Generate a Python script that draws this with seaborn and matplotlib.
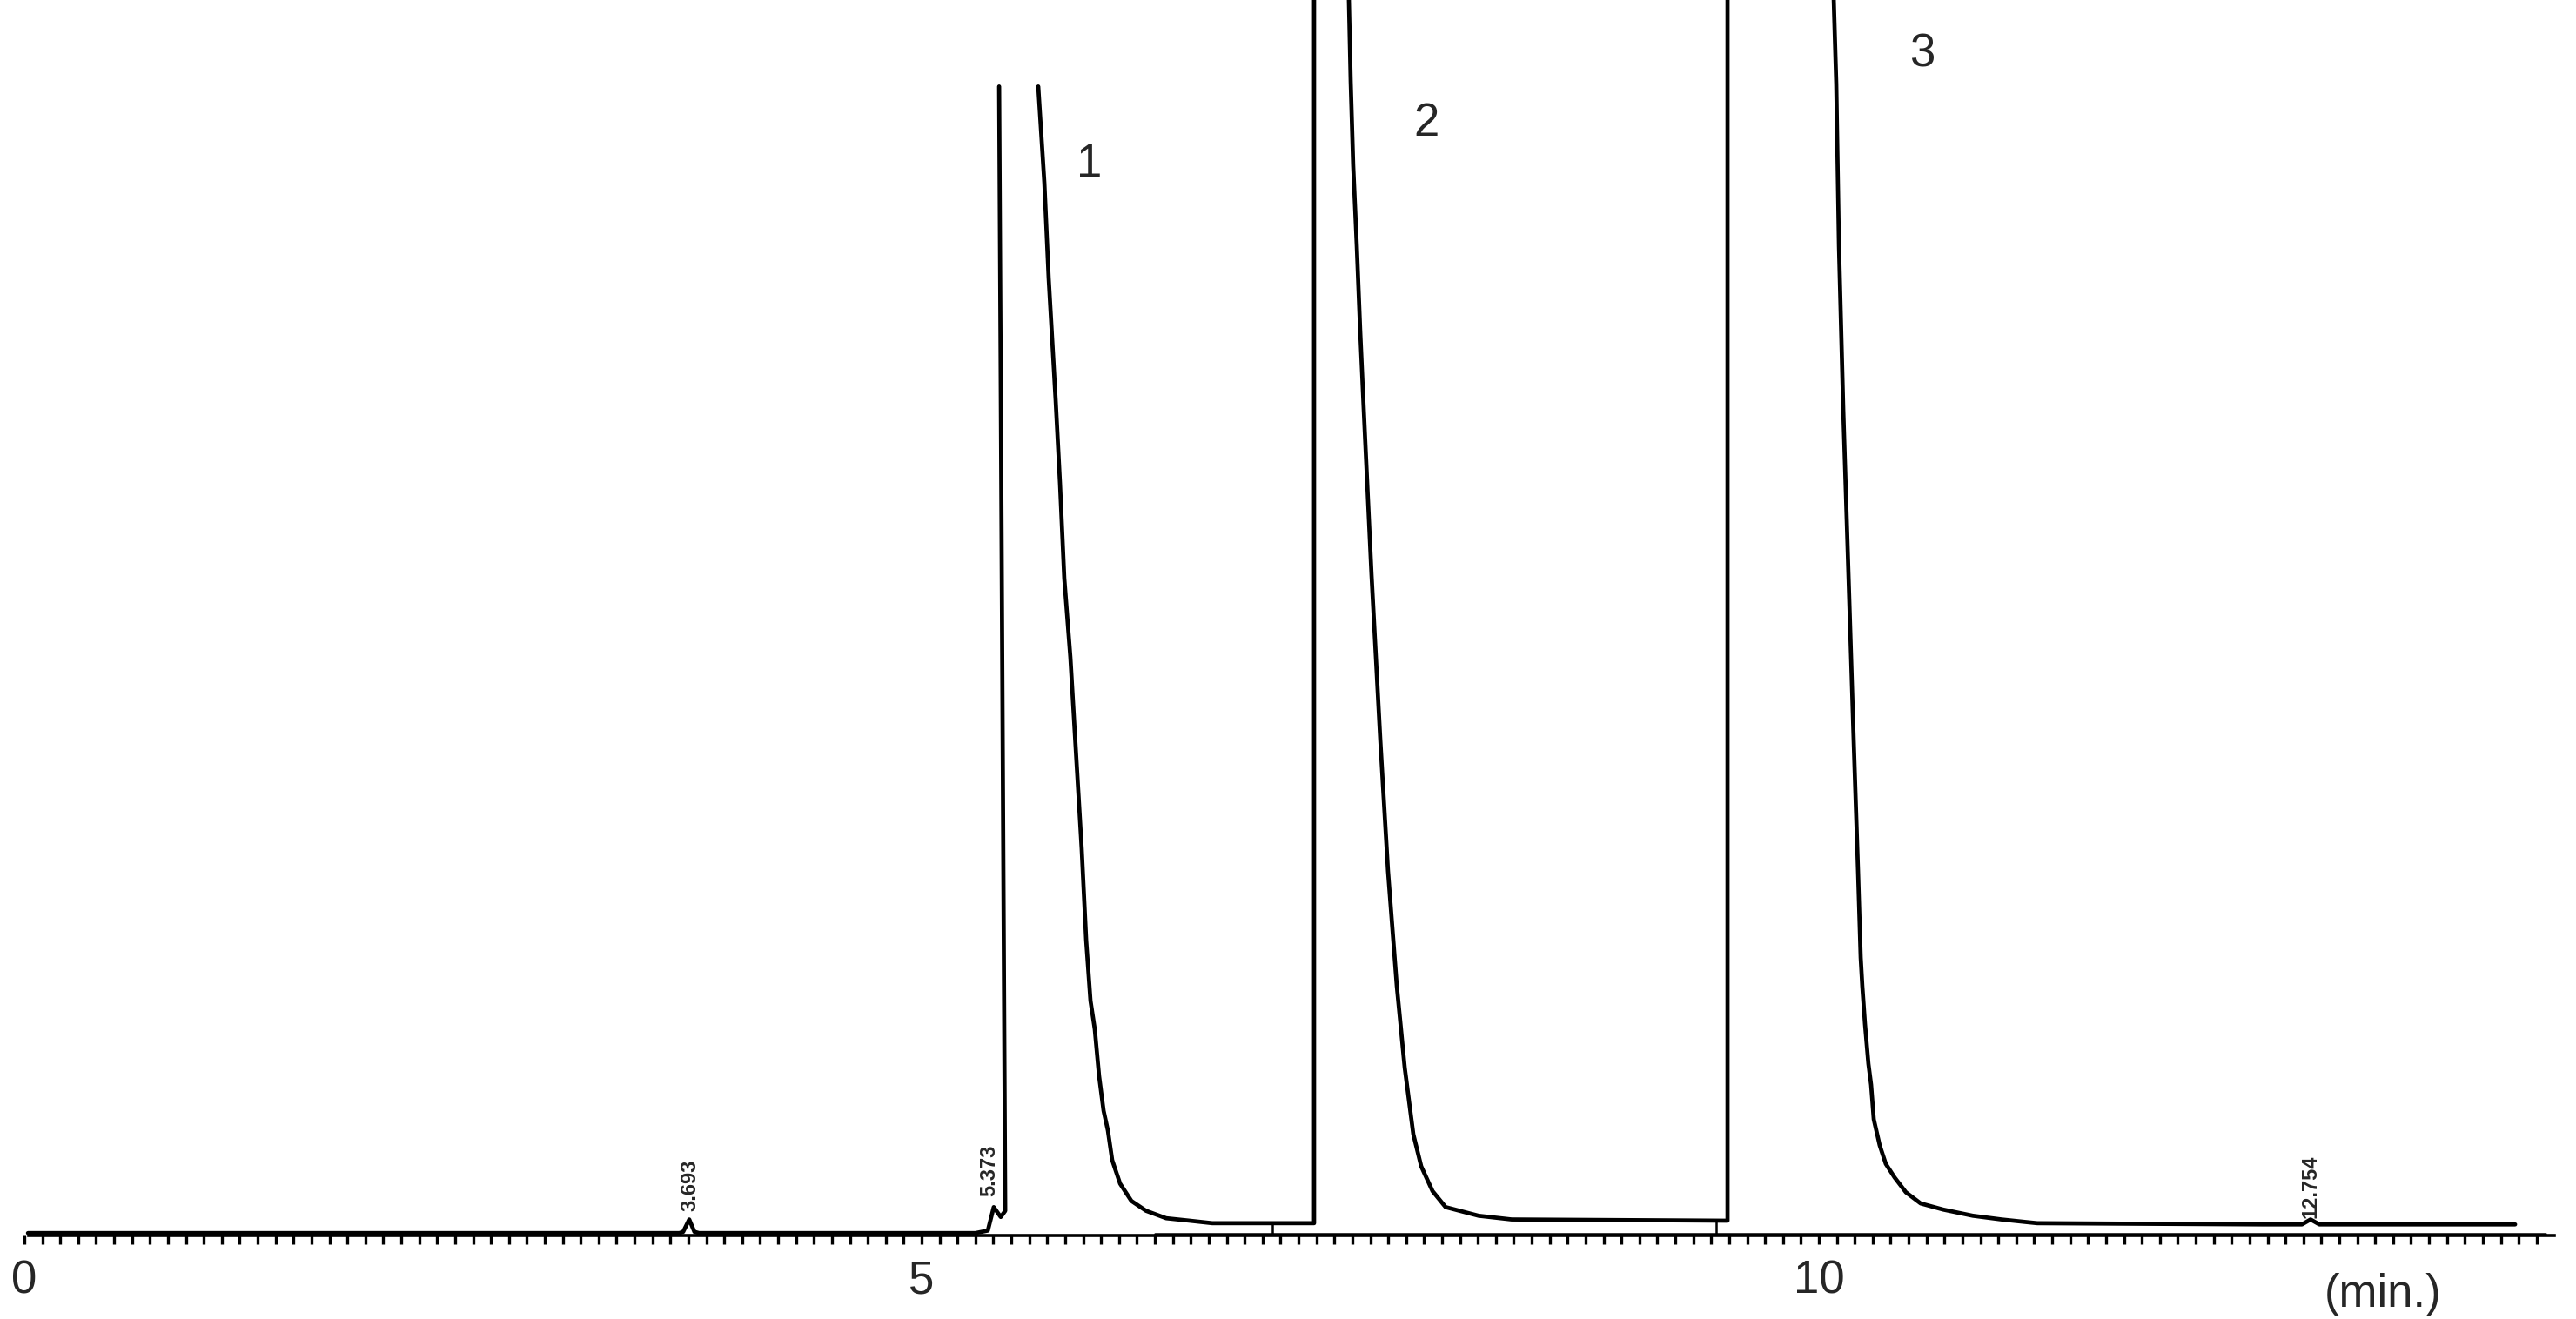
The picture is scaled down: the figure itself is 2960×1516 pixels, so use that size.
import matplotlib.pyplot as plt
import seaborn as sns
import pandas as pd
import numpy as np

# retention time (min) / detector signal (% of full scale)
t_a = [0.02, 1.50, 3.00, 3.65, 3.671, 3.705, 3.734, 3.76, 5.30, 5.369, 5.402, 5.441, 5.466, 5.432]
s_a = [0.2, 0.2, 0.2, 0.2, 0.3, 1.3, 0.3, 0.2, 0.2, 0.4, 2.3, 1.5, 2.0, 93.0]

t_b = [5.650, 5.684, 5.708, 5.747, 5.771, 5.795, 5.829, 5.863, 5.892, 5.917, 5.941, 5.965,
       5.989, 6.014, 6.038, 6.062, 6.106, 6.169, 6.251, 6.363, 6.494, 6.620, 7.187, 7.187]
s_b = [93.0, 85.2, 77.5, 67.6, 60.9, 53.2, 46.8, 38.4, 31.3, 23.9, 19.0, 16.7,
       12.9, 10.1, 8.5, 6.1, 4.2, 2.8, 2.0, 1.4, 1.2, 1.0, 1.0, 100]

t_c = [7.381, 7.391, 7.405, 7.425, 7.444, 7.464, 7.507, 7.556, 7.599, 7.648, 7.692, 7.740,
       7.784, 7.847, 7.920, 8.104, 8.288, 9.491, 9.491]
s_c = [100, 93.4, 86.6, 80.1, 73.2, 66.8, 53.5, 40.1, 29.5, 20.2, 13.6, 8.2,
       5.6, 3.6, 2.3, 1.6, 1.3, 1.2, 100]

t_d = [10.083, 10.097, 10.112, 10.136, 10.165, 10.194, 10.218, 10.233, 10.242, 10.257, 10.276,
       10.291, 10.306, 10.339, 10.373, 10.422, 10.485, 10.567, 10.693, 10.858, 11.018, 11.149,
       11.217, 12.473, 12.692, 12.740, 12.789, 13.880]
s_d = [100, 93.2, 80.1, 66.8, 53.5, 40.1, 29.6, 22.5, 20.2, 17.1, 13.9,
       12.2, 9.4, 7.3, 5.8, 4.7, 3.5, 2.6, 2.1, 1.6, 1.3, 1.1,
       1.0, 0.9, 0.9, 1.3, 0.9, 0.9]

# integration baseline and its drop lines
base_t = [6.30, 14.05]
base_s = [0.15, 0.15]
drop_t = [6.954, 9.428]
drop_top = [1.0, 1.2]

peak_names = ["1", "2", "3"]
peak_t = [5.936, 7.813, 10.577]
peak_s = [86.7, 90.0, 95.6]

rt_labels = ["3.693", "5.373", "12.754"]
rt_t = [3.71, 5.378, 12.74]
rt_s = [2.0, 3.2, 1.4]

df = pd.concat([
    pd.DataFrame({"t": t_a, "s": s_a, "seg": 0}),
    pd.DataFrame({"t": t_b, "s": s_b, "seg": 1}),
    pd.DataFrame({"t": t_c, "s": s_c, "seg": 2}),
    pd.DataFrame({"t": t_d, "s": s_d, "seg": 3}),
], ignore_index=True)

sns.set_style("white")
plt.rcParams["font.family"] = ["Liberation Sans Narrow", "Liberation Sans", "DejaVu Sans"]

fig = plt.figure(figsize=(29.6, 15.16), dpi=100)
ax = fig.add_axes([0, 0.0633, 1, 0.9367])

sns.lineplot(data=df, x="t", y="s", units="seg", estimator=None, sort=False,
             color="black", linewidth=3.4, ax=ax)
sns.lineplot(x=base_t, y=base_s, color="black", linewidth=1.8, ax=ax)
ax.vlines(drop_t, 0.15, drop_top, color="black", linewidth=1.8)

for name, x, y in zip(peak_names, peak_t, peak_s):
    ax.text(x, y, name, fontsize=38, ha="center", va="center")
for lab, x, y in zip(rt_labels, rt_t, rt_s):
    ax.text(x, y, lab, fontsize=17, rotation=90, ha="center", va="bottom", fontweight="bold")

ax.text(13.143, -4.8, "(min.)", fontsize=38, ha="center", va="center", clip_on=False)

ax.set_xlim(-28 / 206.2, (2960 - 28) / 206.2)
ax.set_ylim(0, 100)
ax.set_xlabel("")
ax.set_ylabel("")
ax.set_yticks([])
ax.set_xticks([0, 5, 10])
ax.set_xticklabels(["0", "5", "10"])
ax.set_xticks(np.arange(0, 14.05, 0.1), minor=True)
ax.tick_params(axis="x", which="both", direction="out", length=7, width=2.4,
               color="black", labelsize=38, pad=13, bottom=True)
for side in ["top", "right", "left"]:
    ax.spines[side].set_visible(False)
ax.spines["bottom"].set_bounds(0.024, 14.098)
ax.spines["bottom"].set_linewidth(2.6)
ax.spines["bottom"].set_color("black")
ax.patch.set_alpha(0)

fig.savefig("out.png", dpi=100, facecolor="white")
